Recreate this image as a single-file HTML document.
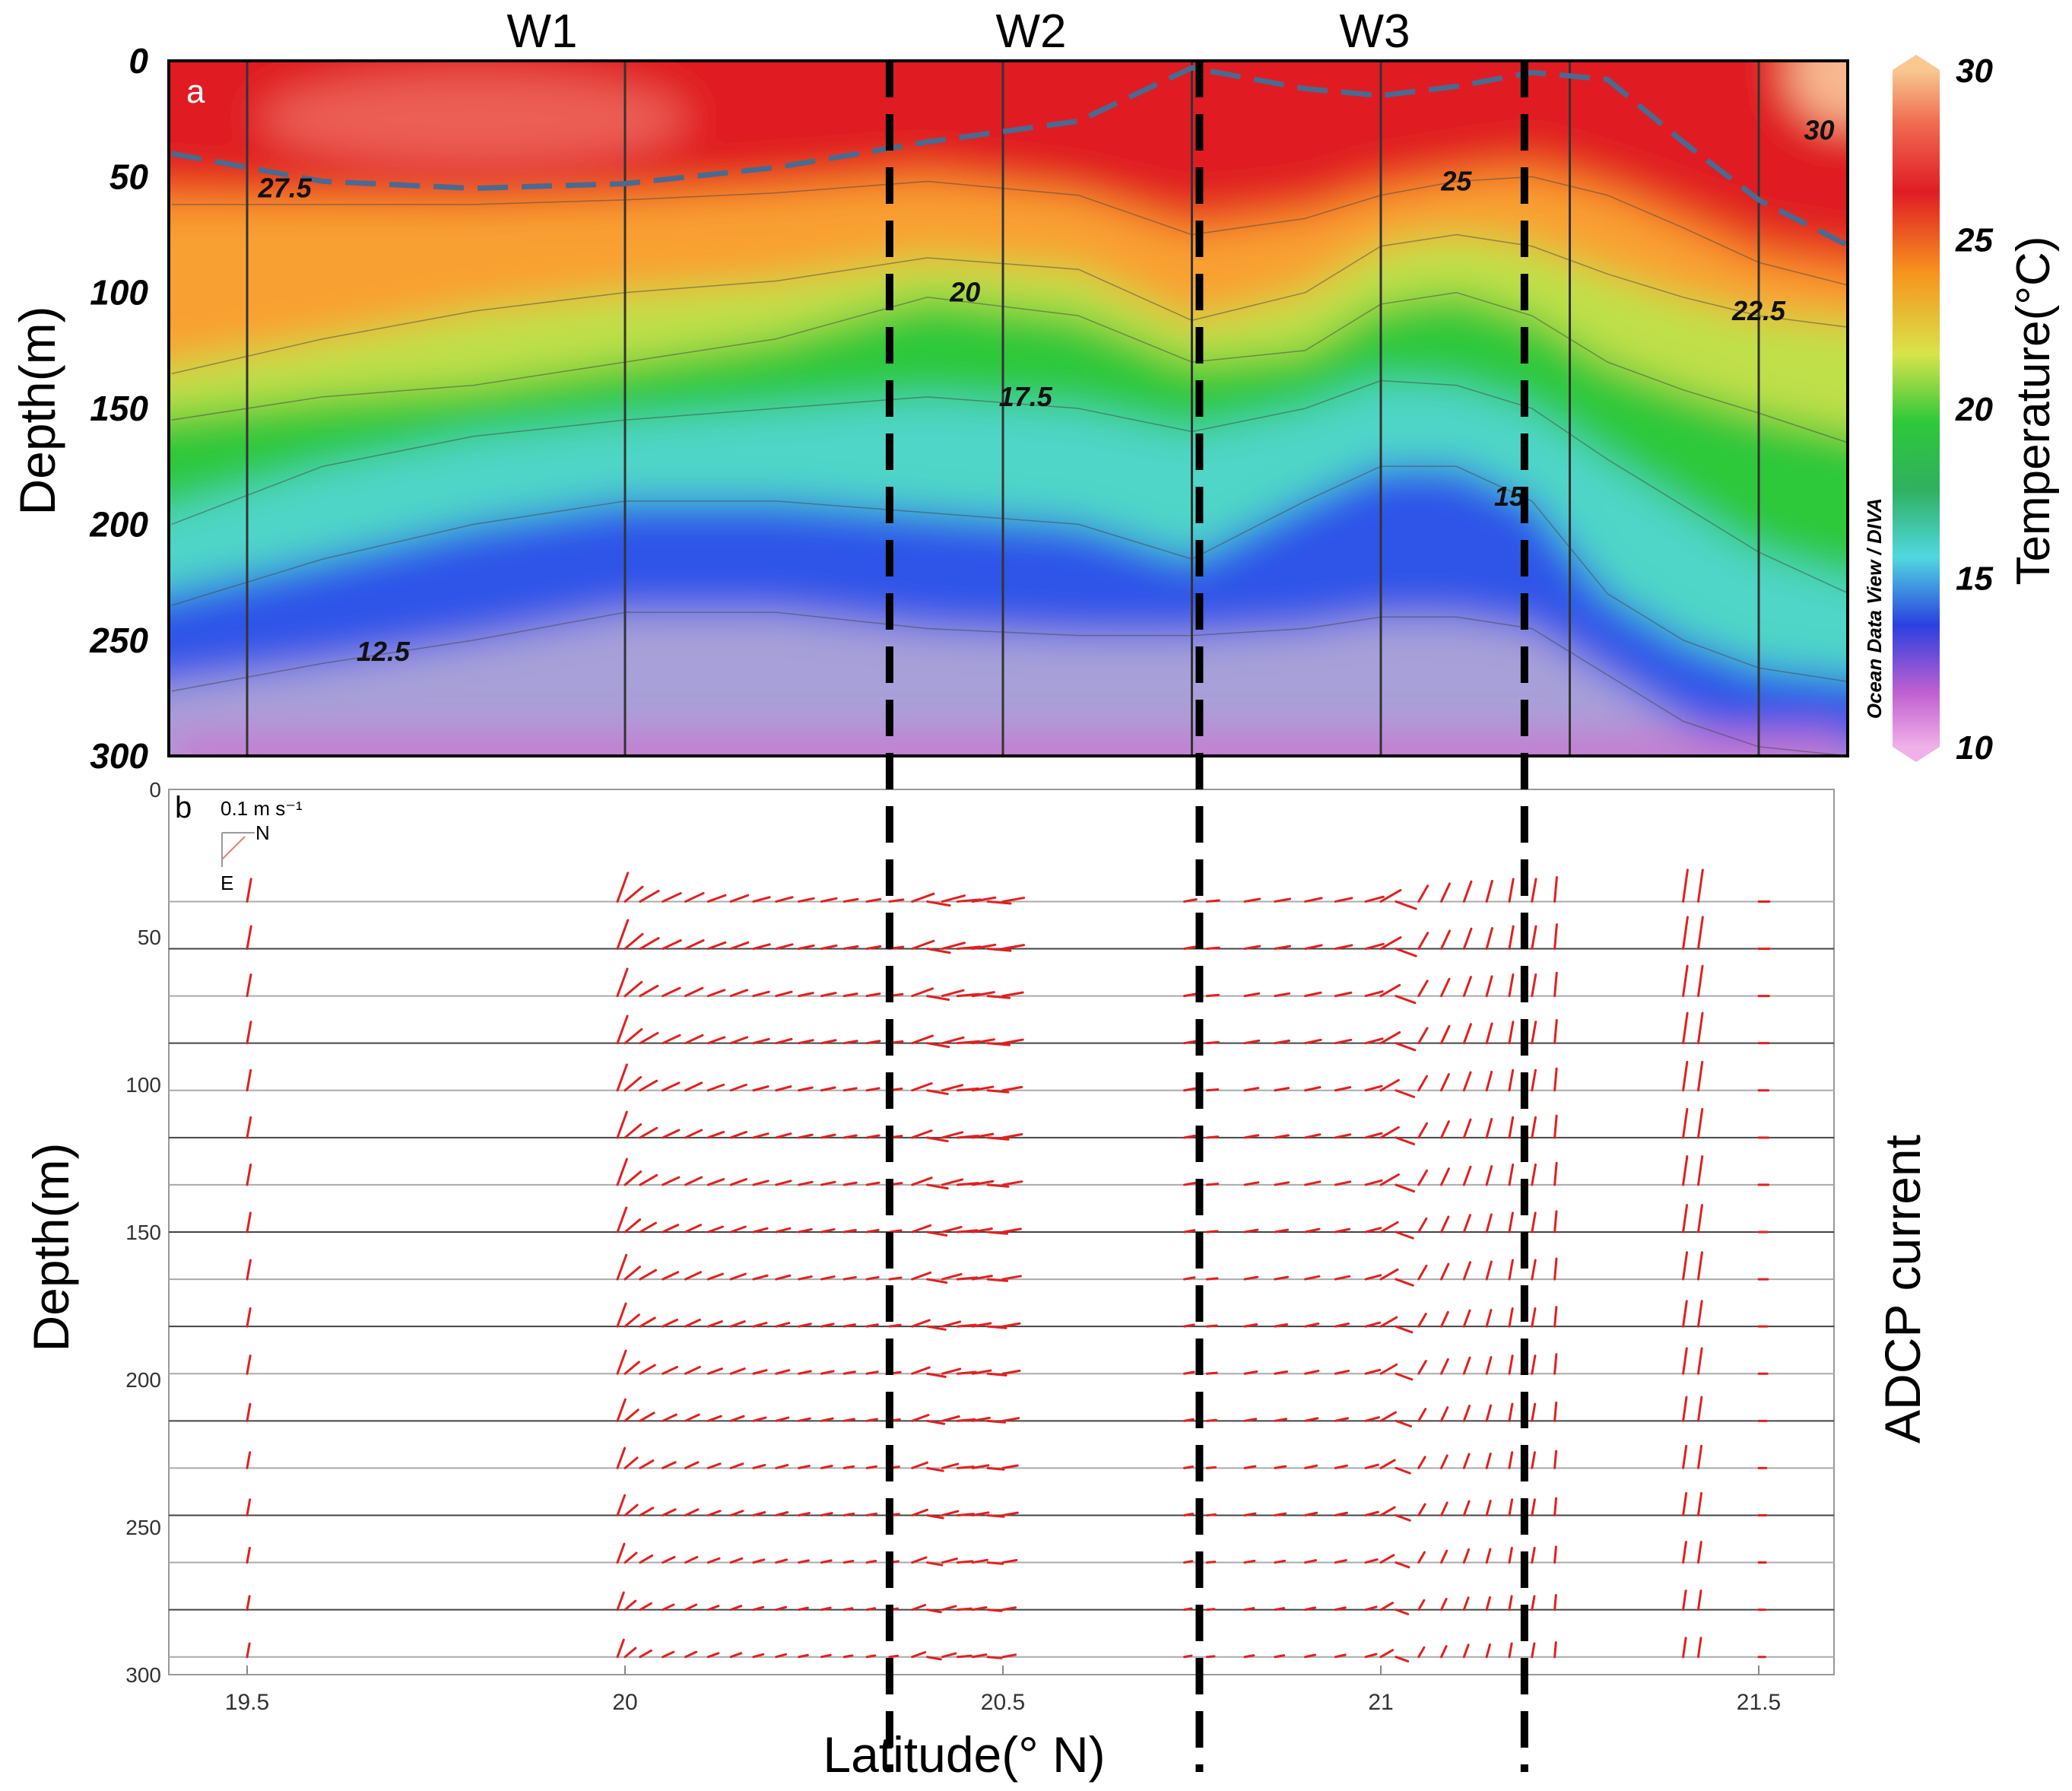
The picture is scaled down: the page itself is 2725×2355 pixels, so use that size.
<!DOCTYPE html>
<html><head><meta charset="utf-8"><style>
html,body{margin:0;padding:0;background:#fff}
svg{display:block;font-family:"Liberation Sans",sans-serif}
</style></head><body>
<svg id="fig" width="2725" height="2355" viewBox="0 0 2725 2355" xmlns="http://www.w3.org/2000/svg">
<defs>
<clipPath id="clipA"><rect x="222" y="80" width="2208" height="914"/></clipPath>
<filter id="blur" x="-10%" y="-10%" width="120%" height="120%"><feGaussianBlur stdDeviation="26"/></filter>
<linearGradient id="cbar" x1="0" y1="0" x2="0" y2="1">
<stop offset="0" stop-color="#f8c890"/><stop offset="0.08" stop-color="#f06a50"/><stop offset="0.18" stop-color="#e01c24"/>
<stop offset="0.3" stop-color="#f7941e"/><stop offset="0.42" stop-color="#d8e44a"/><stop offset="0.52" stop-color="#2ec83a"/>
<stop offset="0.62" stop-color="#30b060"/><stop offset="0.72" stop-color="#50d8e0"/><stop offset="0.82" stop-color="#2a40e0"/>
<stop offset="0.92" stop-color="#c060d0"/><stop offset="1" stop-color="#f0b0e8"/></linearGradient>
</defs>
<g id="panelA"></g>
<g id="panelB"></g>
<g id="overlay"></g>
</svg>
<script>
const NS='http://www.w3.org/2000/svg';
// ---- data ----
const sectLats=[19.4,19.6,19.8,20.0,20.2,20.4,20.6,20.75,20.9,21.0,21.1,21.2,21.3,21.4,21.5,21.62];
const mldDepth=[40,52,55,53,46,35,26,3,12,15,11,5,8,35,60,80];
const iso275=[50,55,58,55,50,45,55,65,60,50,45,40,50,62,75,85];
const iso25=[62,62,62,60,57,52,58,75,68,58,52,50,58,72,87,97];
const iso225=[135,120,108,100,95,85,90,112,100,80,75,80,92,102,110,115];
const iso20=[155,145,140,130,120,102,110,130,125,105,100,110,130,142,152,165];
const iso175=[200,175,162,155,150,145,150,160,150,138,140,150,172,192,212,230];
const iso15=[235,215,200,190,190,195,200,215,190,175,175,190,230,250,262,268];
const iso125=[272,260,250,238,238,245,248,248,245,240,240,245,265,285,296,300];
const stationLats=[19.5,20.0,20.5,20.75,21.0,21.25,21.5];
const depthTicks=[0,50,100,150,200,250,300];
const latTicks=[19.5,20,20.5,21,21.5];
const cbarTicks=[30,25,20,15,10];
const boundaryLats=[20.35,20.76,21.19];
const rowDepths=[38,54,70,86,102,118,134,150,166,182,198,214,230,246,262,278,294];
const rowFactor=[1.0,1.0,0.95,0.95,0.9,0.9,0.9,0.85,0.85,0.8,0.8,0.75,0.7,0.7,0.65,0.6,0.6];
const arrowLats=[19.5,19.99,20.0,20.02,20.05,20.08,20.11,20.14,20.17,20.2,20.23,20.26,20.29,20.32,20.35,
 20.38,20.4,20.42,20.44,20.46,20.48,20.5,20.74,20.77,20.82,20.86,20.9,20.94,20.98,21.0,21.02,
 21.05,21.08,21.11,21.14,21.17,21.2,21.23,21.4,21.42,21.5];
const arrowAng=[80,70,40,30,25,25,20,20,15,15,12,12,10,10,8,
 20,-10,15,5,10,-5,10,10,5,10,10,12,12,15,30,-20,
 60,65,70,75,80,80,85,82,82,0];
const arrowLen=[30,40,30,28,26,26,24,24,22,22,20,20,18,18,18,
 30,30,30,30,30,30,28,16,16,20,20,22,22,24,30,28,
 24,26,28,28,30,30,32,42,42,14];
// ---- helpers ----
const X=l=>325+(l-19.5)*994;
const Ya=d=>80+d*3.047;
const Yb=d=>1038+d*3.88;
function el(tag,attrs,parent,txt){const e=document.createElementNS(NS,tag);for(const k in attrs)e.setAttribute(k,attrs[k]);if(txt!==undefined)e.textContent=txt;parent.appendChild(e);return e;}
const A=document.getElementById('panelA'),B=document.getElementById('panelB'),O=document.getElementById('overlay');
function curve(arr){return sectLats.map((l,i)=>[X(l),Ya(arr[i])]);}
function band(top,bot,color,name){
 const t=top?curve(top):sectLats.map(l=>[X(l),Ya(-40)]);
 const b=bot?curve(bot):sectLats.map(l=>[X(l),Ya(340)]);
 t[0][0]-=80;t[t.length-1][0]+=80;b[0][0]-=80;b[b.length-1][0]+=80;
 const pts=t.concat(b.reverse()).map(p=>p.join(',')).join(' ');
 const p=el('polygon',{points:pts,fill:color},bandG);
 
 
}
// panel A
const clipG=el('g',{'clip-path':'url(#clipA)'},A);
el('rect',{x:222,y:80,width:2208,height:914,fill:'#e01c24'},clipG);
const bandG=el('g',{filter:'url(#blur)'},clipG);
band(null,iso275,'#e01c24','band-above-27-5');
band(iso275,iso25,'#f05a22','band-25-27-5');
band(iso25,iso225,'#f9a030','band-22-5-25');
band(iso225,iso20,'#c0e04a','band-20-22-5');
band(iso20,iso175,'#2ec83a','band-17-5-20');
band(iso175,iso15,'#4fd6c8','band-15-17-5');
band(iso15,iso125,'#2f55e8','band-12-5-15');
band(iso125,null,'#a8a0d8','band-below-12-5');
el('ellipse',{cx:X(19.8),cy:Ya(25),rx:280,ry:60,fill:'#f07a6a','fill-opacity':0.7},bandG);
el('ellipse',{cx:X(21.62),cy:Ya(5),rx:80,ry:70,fill:'#f8b890'},bandG);
el('rect',{x:222,y:Ya(290),width:2208,height:60,fill:'#c878d0'},bandG);
[iso25,iso225,iso20,iso175,iso15,iso125].forEach(a=>{
 el('polyline',{points:curve(a).map(p=>p.join(',')).join(' '),fill:'none',stroke:'#444','stroke-width':1.5,'stroke-opacity':0.5,'stroke-linejoin':'round'},clipG);
});
stationLats.forEach(l=>{const ln=el('line',{x1:X(l),x2:X(l),y1:80,y2:994,stroke:'#333','stroke-width':3},clipG);
 });
const mld=el('polyline',{points:curve(mldDepth).map(p=>p.join(',')).join(' '),fill:'none',stroke:'#4a6a90','stroke-width':7,'stroke-dasharray':'40 18'},clipG);

[['27.5',19.55,55],['25',21.1,52],['22.5',21.5,108],['20',20.45,100],['17.5',20.53,145],['15',21.17,188],['12.5',19.68,255],['30',21.58,30]].forEach(c=>{
 const t=el('text',{x:X(c[1]),y:Ya(c[2])+12,'font-size':36,'font-weight':'bold','font-style':'italic',fill:'#111','text-anchor':'middle'},clipG,c[0]);
 });
el('rect',{x:222,y:80,width:2208,height:914,fill:'none',stroke:'#000','stroke-width':4},A);
el('text',{x:245,y:135,'font-size':44,fill:'#fff'},A,'a');
depthTicks.forEach(d=>{const t=el('text',{x:195,y:Ya(d)+16,'font-size':46,'font-weight':'bold','font-style':'italic','text-anchor':'end',fill:'#000'},A,d);
 });
let t=el('text',{x:0,y:0,'font-size':66,'text-anchor':'middle',transform:'translate(72,540) rotate(-90)'},A,'Depth(m)');

[['W1',713],['W2',1356],['W3',1808]].forEach(w=>{const t=el('text',{x:w[1],y:62,'font-size':62,'text-anchor':'middle'},A,w[0]);
 });
const cb=el('rect',{x:2489,y:92,width:62,height:890,fill:'url(#cbar)'},A);

el('polygon',{points:'2489,92 2520,72 2551,92',fill:'#f8c890'},A);
el('polygon',{points:'2489,982 2520,1002 2551,982',fill:'#f0b0e8'},A);
cbarTicks.forEach(v=>{const y=92+(30-v)/20*890;const t=el('text',{x:2572,y:y+16,'font-size':44,'font-weight':'bold','font-style':'italic'},A,v);
 });
t=el('text',{x:0,y:0,'font-size':62,'text-anchor':'middle',transform:'translate(2695,540) rotate(-90)'},A,'Temperature(°C)');

t=el('text',{x:0,y:0,'font-size':26,'font-weight':'bold','font-style':'italic','text-anchor':'middle',transform:'translate(2474,800) rotate(-90)'},A,'Ocean Data View / DIVA');

// panel B
el('rect',{x:222,y:1038,width:2190,height:1164,fill:'#fff',stroke:'#999','stroke-width':2},B);
rowDepths.forEach((d,i)=>{const ln=el('line',{x1:222,x2:2412,y1:Yb(d),y2:Yb(d),stroke:i%2?'#444':'#aaa','stroke-width':2},B);
 });
latTicks.forEach(l=>{el('line',{x1:X(l),x2:X(l),y1:2202,y2:2190,stroke:'#888','stroke-width':2},B);
 const t=el('text',{x:X(l),y:2248,'font-size':30,'text-anchor':'middle',fill:'#333'},B,l);
 });
depthTicks.forEach(d=>{const t=el('text',{x:212,y:Yb(d)+10,'font-size':28,'text-anchor':'end',fill:'#333'},B,d);
 });
t=el('text',{x:0,y:0,'font-size':66,'text-anchor':'middle',transform:'translate(90,1640) rotate(-90)'},B,'Depth(m)');

t=el('text',{x:0,y:0,'font-size':66,'text-anchor':'middle',transform:'translate(2525,1695) rotate(-90)'},B,'ADCP current');

t=el('text',{x:1268,y:2330,'font-size':66,'text-anchor':'middle'},B,'Latitude(°  N)');

el('text',{x:230,y:1075,'font-size':40},B,'b');
el('text',{x:290,y:1072,'font-size':26},B,'0.1 m s⁻¹');
el('line',{x1:292,x2:335,y1:1095,y2:1095,stroke:'#999','stroke-width':2},B);
el('line',{x1:292,x2:292,y1:1095,y2:1140,stroke:'#999','stroke-width':2},B);
el('line',{x1:292,x2:322,y1:1130,y2:1100,stroke:'#e08080','stroke-width':2},B);
el('text',{x:336,y:1104,'font-size':26},B,'N');
el('text',{x:290,y:1170,'font-size':26},B,'E');
const arrG=el('g',{stroke:'#e02020','stroke-width':3,'stroke-linecap':'round'},B);

rowDepths.forEach((d,r)=>{arrowLats.forEach((l,i)=>{
 const a=arrowAng[i]*Math.PI/180,L=arrowLen[i]*rowFactor[r];
 const x=X(l),y=Yb(d);
 const ln=el('line',{x1:x,y1:y,x2:x+L*Math.cos(a),y2:y-L*Math.sin(a)},arrG);
 
 
});});
boundaryLats.forEach(l=>{const ln=el('line',{x1:X(l),x2:X(l),y1:80,y2:2330,stroke:'#000','stroke-width':10,'stroke-dasharray':'48 22'},O);
 });
</script>
</body></html>
